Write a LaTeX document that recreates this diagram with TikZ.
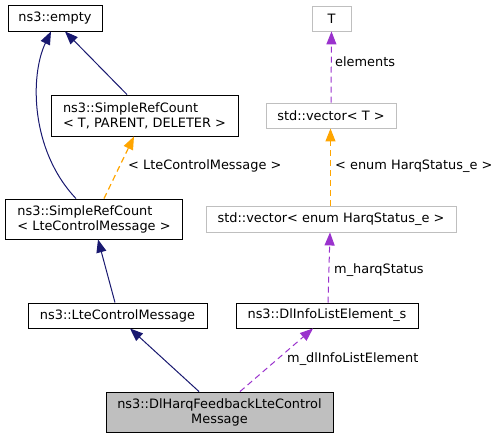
\documentclass[tikz,border=0pt]{standalone}
\usepackage{fontspec}
\setmainfont{DejaVu Sans}
\usepackage{xcolor}
\usetikzlibrary{arrows.meta}
\definecolor{inhblue}{HTML}{191970}
\definecolor{tplorange}{HTML}{FFA500}
\definecolor{usepurple}{HTML}{9A32CD}
\definecolor{boxgray}{HTML}{BFBFBF}

\begin{document}
\begin{tikzpicture}[x=1pt,y=-1pt,
  box/.style={rectangle,draw,line width=0.9pt,inner sep=0pt,font=\fontsize{12.9}{15}\selectfont},
  leftbox/.style={box,align=left,inner xsep=12pt},
  extbox/.style={box,draw=boxgray},
  lbl/.style={anchor=west,inner sep=0pt,font=\fontsize{12.9}{15}\selectfont},
  inh/.style={draw=inhblue,line width=1pt,-{Triangle[length=13pt,width=10pt,fill=inhblue]}},
  tpl/.style={draw=tplorange,line width=1.2pt,dash pattern=on 6pt off 4pt,-{Triangle[length=13pt,width=10pt,fill=tplorange]}},
  use/.style={draw=usepurple,line width=1pt,dash pattern=on 6pt off 4pt,-{Triangle[length=13pt,width=10pt,fill=usepurple]}}]
\useasboundingbox (0,0) rectangle (499,439);
\node at (55,18) [box,minimum width=94pt,minimum height=26pt] (empty) {ns3::empty};
\node at (144.5,115.5) [leftbox,minimum height=41pt] (srtpd) {ns3::SimpleRefCount\\< T, PARENT, DELETER >};
\node at (94,219) [leftbox,minimum height=40pt] (srlcm) {ns3::SimpleRefCount\\< LteControlMessage >};
\node at (117.5,315.5) [box,minimum width=179pt,minimum height=25pt] (lcm) {ns3::LteControlMessage};
\node at (327,315.5) [box,minimum width=182pt,minimum height=25pt] (dlile) {ns3::DlInfoListElement\_s};
\node at (219.5,412) [box,fill=boxgray,align=center,minimum width=227pt,minimum height=40pt] (dlharq) {ns3::DlHarqFeedbackLteControl\\Message};
\node at (331.5,18.5) [extbox,minimum width=39pt,minimum height=25pt] (tpar) {T};
\node at (331,115.5) [extbox,minimum width=130pt,minimum height=25pt] (vect) {std::vector< T >};
\node at (331,219) [extbox,minimum width=250pt,minimum height=26pt] (vecenum) {std::vector< enum HarqStatus\_e >};
% edge labels
\node at (128,166) [lbl] (lsrlcm) {< LteControlMessage >};
\node at (335,62) [lbl] (lelem) {elements};
\node at (335,166) [lbl] (lenum) {< enum HarqStatus\_e >};
\node at (334,270) [lbl] (lharq) {m\_harqStatus};
\node at (287,359) [lbl] (ldlinfo) {m\_dlInfoListElement};
% connectors
\draw[inh] ([xshift=-18pt]srlcm.north) .. controls (30,150) and (30,75) .. ([xshift=-4pt]empty.south);
\draw[inh] ([xshift=-17.5pt]srtpd.north) -- ([xshift=10pt]empty.south);
\draw[tpl] ([xshift=10pt]srlcm.north) -- ([xshift=-10.5pt]srtpd.south);
\draw[inh] ([xshift=-2.5pt]lcm.north) -- ([xshift=4pt]srlcm.south);
\draw[inh] ([xshift=-20.5pt]dlharq.north) -- ([xshift=12.5pt]lcm.south);
\draw[use] ([xshift=20.5pt]dlharq.north) -- ([xshift=-14pt]dlile.south);
\draw[use] ([xshift=1pt]dlile.north) -- ([xshift=-1pt]vecenum.south);
\draw[tpl] ([xshift=-0.5pt]vecenum.north) -- ([xshift=-0.5pt]vect.south);
\draw[use] (vect.north) -- (tpar.south);
\end{tikzpicture}
\end{document}
